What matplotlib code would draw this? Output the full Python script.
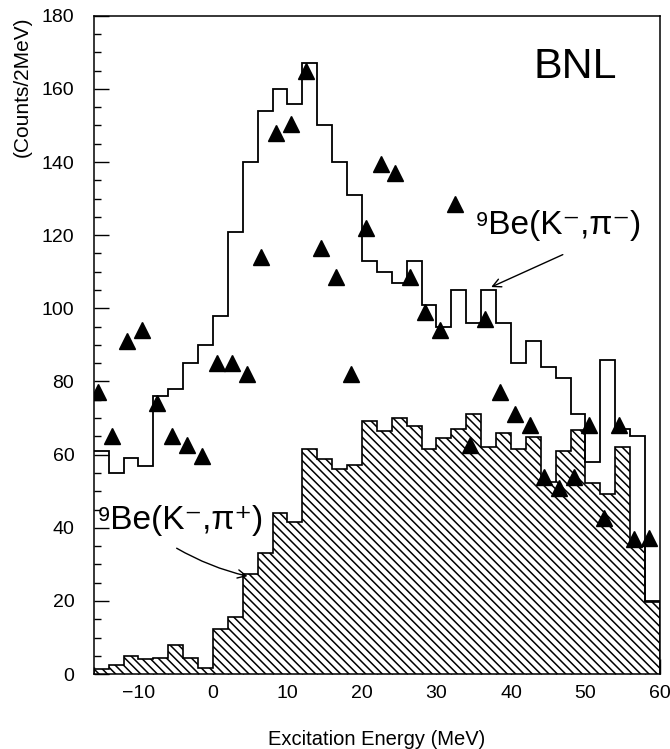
import numpy as np
import matplotlib
matplotlib.use("Agg")
from matplotlib import pyplot as plt
from matplotlib.ticker import MultipleLocator

# 2 MeV bins from -16 to 60 MeV
edges = np.arange(-16, 62, 2)

# 9Be(K-,pi-) open histogram
kpim = [61, 55, 59, 57, 76, 78, 85, 90, 98, 121,
        140, 154, 160, 156, 167, 150, 140, 131, 113, 110,
        107, 113, 101, 95, 105, 96, 105, 96, 85, 91,
        84, 81, 71, 58, 86, 67, 65, 20]

# 9Be(K-,pi+) hatched histogram
kpip = [1.5, 2.5, 5, 4, 4.5, 8, 4.3, 1.7, 12.3, 15.7,
        27.4, 33, 44, 41.5, 61.5, 58.7, 56, 57.3, 69.2, 66.5,
        70, 67.7, 61.6, 64.5, 67, 71.2, 62.2, 66, 61.6, 64.8,
        52.6, 61, 66.8, 52.3, 49.3, 62.2, 35, 19.7]

# triangles
tri_x = np.arange(-15.5, 59, 2)
tri_y = [77, 65, 91, 94, 74, 65, 62.5, 59.5, 85, 85,
         82, 114, 148, 150.5, 165, 116.5, 108.5, 82, 122, 139.5,
         137, 108.5, 99, 94, 128.5, 62.5, 97, 77, 71, 68,
         54, 51, 54, 68, 42.7, 68, 37, 37.3]

plt.rcParams['font.family'] = ['Liberation Sans', 'DejaVu Sans']
plt.rcParams['hatch.linewidth'] = 1.1

fig = plt.figure(figsize=(6.7, 7.49), dpi=100, facecolor="w")
ax = fig.add_axes([0.140, 0.100, 0.845, 0.879])

ax.stairs(kpip, edges, fill=True, facecolor="white", edgecolor="black",
          hatch="\\\\\\\\", lw=1.2, zorder=2)
ax.stairs(kpim, edges, baseline=None, color="black", lw=1.3, zorder=3)
ax.plot(tri_x, tri_y, "^", color="black", ms=11, linestyle="none", zorder=4)

ax.set_xlim(-16, 60)
ax.set_ylim(0, 180)
ax.xaxis.set_major_locator(MultipleLocator(10))
ax.xaxis.set_minor_locator(MultipleLocator(2))
ax.yaxis.set_major_locator(MultipleLocator(20))
ax.yaxis.set_minor_locator(MultipleLocator(5))
ax.tick_params(which="both", direction="in", top=False, right=False)
ax.tick_params(which="major", length=11, width=1, labelsize=14)
ax.tick_params(which="minor", length=5, width=1)
ax.tick_params(axis="y", which="major", pad=14)
ax.tick_params(axis="x", which="major", pad=8)
for s in ax.spines.values():
    s.set_linewidth(1.1)

ax.set_ylabel("(Counts/2MeV)", fontsize=15)
ax.yaxis.set_label_coords(-0.11, 0.892)
ax.set_xlabel("Excitation Energy (MeV)", fontsize=14.5)
ax.xaxis.set_label_coords(0.5, -0.085)

ax.text(0.85, 0.922, "BNL", transform=ax.transAxes, fontsize=31,
        ha="center", va="center")
ax.text(0.673, 0.681, "⁹Be(K⁻,π⁻)", transform=ax.transAxes, fontsize=24,
        ha="left", va="center")
ax.text(0.005, 0.234, "⁹Be(K⁻,π⁺)", transform=ax.transAxes, fontsize=24,
        ha="left", va="center")
ax.annotate("", xy=(37, 105.5), xytext=(47.3, 115),
            arrowprops=dict(arrowstyle="->", color="black", lw=1, mutation_scale=15))
ax.annotate("", xy=(5, 26.6), xytext=(-5.2, 34.8),
            arrowprops=dict(arrowstyle="->", color="black", lw=1, mutation_scale=15,
                            connectionstyle="arc3,rad=0.08"))

plt.savefig("out.png", dpi=100, facecolor="w")
